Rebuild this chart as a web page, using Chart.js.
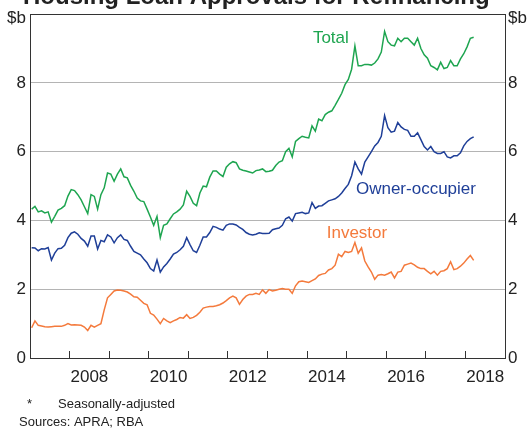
<!DOCTYPE html>
<html>
<head>
<meta charset="utf-8">
<script src="https://cdn.jsdelivr.net/npm/chart.js@4"></script>
<style>
  html, body { margin: 0; padding: 0; background: #fff; }
  canvas { display: block; }
</style>
</head>
<body>
<canvas id="chartCanvas" width="530" height="432"></canvas>
<script>
// monthly, Jan 2007 onwards ($b)
const firstYear = 2007;

const total = [
  4.33, 4.41, 4.25, 4.28, 4.22, 4.25, 3.95, 4.12, 4.30, 4.35,
  4.43, 4.71, 4.90, 4.87, 4.75, 4.60, 4.40, 4.20, 4.75, 4.70,
  4.33, 4.75, 4.95, 5.38, 5.35, 5.14, 5.35, 5.50, 5.27, 5.24,
  5.02, 4.85, 4.65, 4.57, 4.55, 4.33, 4.10, 3.86, 4.12, 3.50,
  3.86, 3.90, 4.05, 4.19, 4.25, 4.33, 4.45, 4.85, 4.70, 4.50,
  4.43, 4.80, 5.00, 4.98, 5.26, 5.44, 5.44, 5.35, 5.28, 5.55,
  5.65, 5.71, 5.68, 5.50, 5.46, 5.44, 5.41, 5.38, 5.45, 5.47,
  5.50, 5.42, 5.43, 5.46, 5.60, 5.70, 5.74, 6.00, 6.10, 5.85,
  6.30, 6.38, 6.45, 6.42, 6.40, 6.75, 6.60, 6.95, 6.90, 7.08,
  7.15, 7.19, 7.35, 7.52, 7.70, 7.95, 8.10, 8.40, 9.08, 8.50,
  8.50, 8.54, 8.54, 8.52, 8.58, 8.70, 8.90, 9.50, 9.20, 9.10,
  9.08, 9.30, 9.20, 9.30, 9.30, 9.20, 9.10, 9.30, 9.00, 8.82,
  8.72, 8.50, 8.45, 8.38, 8.60, 8.42, 8.45, 8.65, 8.50, 8.50,
  8.70, 8.85, 9.05, 9.30, 9.33
];

const ownerOccupier = [
  3.21, 3.20, 3.12, 3.18, 3.17, 3.21, 2.85, 3.05, 3.18, 3.19,
  3.28, 3.50, 3.63, 3.67, 3.60, 3.48, 3.40, 3.25, 3.55, 3.55,
  3.17, 3.42, 3.38, 3.58, 3.52, 3.35, 3.50, 3.58, 3.45, 3.42,
  3.25, 3.10, 3.05, 3.00, 2.88, 2.77, 2.60, 2.53, 2.85, 2.50,
  2.65, 2.75, 2.88, 3.02, 3.07, 3.15, 3.25, 3.50, 3.30, 3.12,
  3.07, 3.28, 3.52, 3.52, 3.65, 3.83, 3.80, 3.75, 3.72, 3.86,
  3.90, 3.90, 3.87, 3.80, 3.74, 3.65, 3.60, 3.58, 3.60, 3.64,
  3.62, 3.62, 3.63, 3.73, 3.76, 3.78, 3.86, 4.05, 4.10, 3.98,
  4.20, 4.22, 4.24, 4.20, 4.22, 4.52, 4.35, 4.42, 4.43, 4.50,
  4.57, 4.60, 4.63, 4.70, 4.80, 4.93, 5.05, 5.30, 5.70, 5.50,
  5.35, 5.70, 5.85, 6.00, 6.17, 6.27, 6.45, 7.05, 6.70, 6.57,
  6.60, 6.85, 6.72, 6.65, 6.62, 6.45, 6.45, 6.55, 6.35, 6.15,
  6.05, 6.15, 6.00, 5.95, 5.95, 6.00, 5.85, 5.82, 5.88, 5.88,
  5.97, 6.17, 6.30, 6.38, 6.43
];

const investor = [
  0.88, 1.08, 0.95, 0.93, 0.91, 0.90, 0.91, 0.92, 0.92, 0.92,
  0.95, 1.00, 0.96, 0.97, 0.96, 0.95, 0.90, 0.80, 0.95, 0.90,
  0.95, 1.00, 1.40, 1.75, 1.85, 1.95, 1.98, 1.97, 1.95, 1.92,
  1.86, 1.78, 1.77, 1.68, 1.59, 1.55, 1.30, 1.25, 1.13, 1.00,
  1.15, 1.08, 1.03, 1.08, 1.12, 1.18, 1.16, 1.26, 1.15, 1.18,
  1.24, 1.33, 1.45, 1.48, 1.50, 1.50, 1.52, 1.55, 1.60, 1.67,
  1.75, 1.80, 1.75, 1.56, 1.70, 1.80, 1.85, 1.85, 1.88, 1.85,
  1.98, 1.88, 1.99, 1.95, 1.97, 2.00, 2.02, 2.00, 2.00, 1.88,
  2.10, 2.22, 2.24, 2.22, 2.20, 2.25, 2.30, 2.40, 2.44, 2.46,
  2.56, 2.60, 2.70, 3.02, 2.95, 3.10, 3.07, 3.10, 3.36, 3.05,
  3.20, 2.82, 2.65, 2.50, 2.29, 2.41, 2.43, 2.41, 2.45, 2.50,
  2.33, 2.50, 2.52, 2.70, 2.73, 2.76, 2.71, 2.64, 2.60, 2.60,
  2.52, 2.45, 2.52, 2.41, 2.52, 2.54, 2.60, 2.80, 2.57, 2.60,
  2.67, 2.76, 2.88, 2.98, 2.84
];

const yTicks = [0, 2, 4, 6, 8, 10];
const yearTicks = [2008, 2009, 2010, 2011, 2012, 2013, 2014, 2015, 2016, 2017, 2018];
const yearLabels = [2008, 2010, 2012, 2014, 2016, 2018];

const GREEN = '#1ea550';
const BLUE = '#1f3f98';
const ORANGE = '#f47a3c';
const FONT = '"Liberation Sans", Arial, sans-serif';

Chart.defaults.font.family = FONT;

const monthPos = total.map((_, i) => firstYear + (i + 0.5) / 12);
const toPoints = vals => vals.map((v, i) => ({ x: monthPos[i], y: v }));

// ticks at year boundaries, labels in the middle of the labelled years
const xTickValues = yearTicks.concat(yearLabels.map(y => y + 0.5)).sort((a, b) => a - b);

const seriesLabels = [
  { text: 'Total', x: 2014.6, y: 9.31, color: GREEN },
  { text: 'Owner-occupier', x: 2016.75, y: 4.92, color: BLUE },
  { text: 'Investor', x: 2015.26, y: 3.62, color: ORANGE }
];

const textPlugin = {
  id: 'chartText',
  afterDraw(chart) {
    const { ctx, scales } = chart;
    ctx.save();
    ctx.fillStyle = '#222';
    ctx.textAlign = 'left';
    ctx.textBaseline = 'alphabetic';
    ctx.font = 'bold 24px ' + FONT;
    ctx.fillText('Housing Loan Approvals for Refinancing*', 23, 4);

    ctx.font = '17px ' + FONT;
    ctx.textBaseline = 'middle';
    ctx.textAlign = 'right';
    ctx.fillText('$b', 26, 18);
    ctx.textAlign = 'left';
    ctx.fillText('$b', 508, 18);

    ctx.textAlign = 'center';
    seriesLabels.forEach(l => {
      ctx.fillStyle = l.color;
      ctx.fillText(l.text, scales.x.getPixelForValue(l.x), scales.y.getPixelForValue(l.y));
    });

    ctx.fillStyle = '#222';
    ctx.textAlign = 'left';
    ctx.font = '13px ' + FONT;
    ctx.fillText('*', 27, 404);
    ctx.fillText('Seasonally-adjusted', 58, 404);
    ctx.fillText('Sources: APRA; RBA', 19, 422);
    ctx.restore();
  }
};

const yTickLabel = v => (v === 10 ? '' : v);

new Chart(document.getElementById('chartCanvas'), {
  type: 'line',
  data: {
    datasets: [
      { label: 'Total', data: toPoints(total), borderColor: GREEN },
      { label: 'Owner-occupier', data: toPoints(ownerOccupier), borderColor: BLUE },
      { label: 'Investor', data: toPoints(investor), borderColor: ORANGE }
    ]
  },
  options: {
    responsive: false,
    animation: false,
    devicePixelRatio: 1,
    layout: { padding: { top: 8, left: 0, right: 0, bottom: 0 } },
    elements: {
      point: { radius: 0 },
      line: { borderWidth: 1.5, tension: 0, fill: false }
    },
    plugins: { legend: { display: false }, tooltip: { enabled: false } },
    scales: {
      x: {
        type: 'linear',
        min: 2007,
        max: 2019,
        afterBuildTicks: s => { s.ticks = xTickValues.map(v => ({ value: v })); },
        afterFit: s => { s.height = 74; },
        ticks: {
          autoSkip: false,
          maxRotation: 0,
          padding: 16,
          color: '#222',
          font: { size: 17 },
          callback: v => (yearLabels.includes(v - 0.5) ? String(v - 0.5) : '')
        },
        grid: {
          drawOnChartArea: false,
          drawTicks: true,
          tickLength: -7,
          tickWidth: 1,
          tickColor: c => (Number.isInteger(c.tick && c.tick.value) ? '#333' : 'rgba(0,0,0,0)')
        },
        border: { display: true, color: '#333', width: 1 }
      },
      y: {
        position: 'left',
        min: 0,
        max: 10,
        afterBuildTicks: s => { s.ticks = yTicks.map(v => ({ value: v })); },
        afterFit: s => { s.width = 30; },
        ticks: { padding: 4, color: '#222', font: { size: 17 }, callback: yTickLabel },
        grid: {
          drawTicks: false,
          lineWidth: 1,
          color: c => (c.tick && (c.tick.value === 0 || c.tick.value === 10) ? '#333' : '#b4b4b4')
        },
        border: { display: true, color: '#333', width: 1 }
      },
      y2: {
        position: 'right',
        min: 0,
        max: 10,
        afterBuildTicks: s => { s.ticks = yTicks.map(v => ({ value: v })); },
        afterFit: s => { s.width = 25; },
        ticks: { padding: 3, color: '#222', font: { size: 17 }, callback: yTickLabel },
        grid: { display: false, drawTicks: false },
        border: { display: true, color: '#333', width: 1 }
      }
    }
  },
  plugins: [textPlugin]
});
</script>
</body>
</html>
